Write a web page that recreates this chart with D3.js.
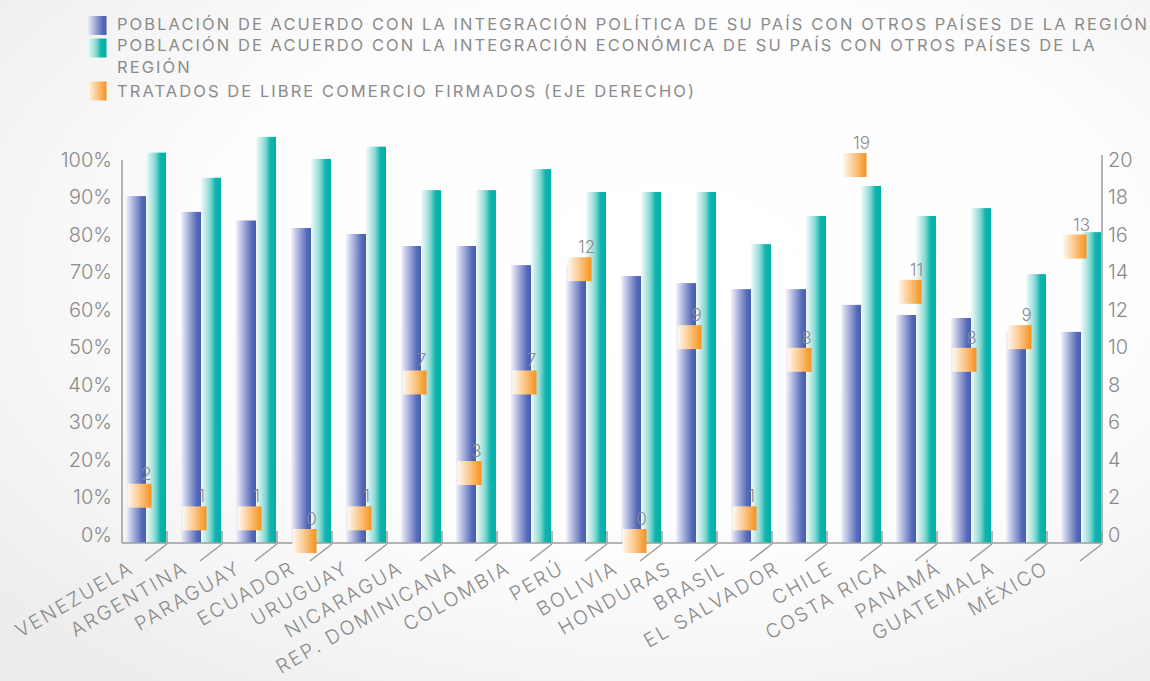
<!DOCTYPE html>
<html>
<head>
<meta charset="utf-8">
<script src="https://cdn.jsdelivr.net/npm/d3@7"></script>
<style>
  html, body { margin: 0; padding: 0; background: #ffffff; }
  svg { display: block; }
</style>
</head>
<body>
<svg id="chart" width="1150" height="681"></svg>
<script>
// ---------------- DATA ----------------
const countries = ["VENEZUELA", "ARGENTINA", "PARAGUAY", "ECUADOR", "URUGUAY", "NICARAGUA",
  "REP. DOMINICANA", "COLOMBIA", "PERÚ", "BOLIVIA", "HONDURAS", "BRASIL", "EL SALVADOR",
  "CHILE", "COSTA RICA", "PANAMÁ", "GUATEMALA", "MÉXICO"];
// % de la población de acuerdo con la integración política
const politica = [92.5, 88.3, 86.0, 84.0, 82.4, 79.2, 79.2, 74.1, 74.1, 71.2, 69.3, 67.7, 67.7, 63.5, 60.8, 60.0, 56.3, 56.3];
// % de la población de acuerdo con la integración económica
const economica = [104.1, 97.4, 108.3, 102.4, 105.7, 94.1, 94.1, 99.7, 93.6, 93.6, 93.6, 79.7, 87.2, 95.2, 87.2, 89.3, 71.7, 82.9];
// Tratados de libre comercio firmados (eje derecho)
const tratados = [2, 1, 1, 0, 1, 7, 3, 7, 12, 0, 9, 1, 8, 19, 11, 8, 9, 13];

const leftTicks = [0, 10, 20, 30, 40, 50, 60, 70, 80, 90, 100];
const rightTicks = [0, 2, 4, 6, 8, 10, 12, 14, 16, 18, 20];

const legendLabels = [
  ["POBLACIÓN DE ACUERDO CON LA INTEGRACIÓN POLÍTICA DE SU PAÍS CON OTROS PAÍSES DE LA REGIÓN"],
  ["POBLACIÓN DE ACUERDO CON LA INTEGRACIÓN ECONÓMICA DE SU PAÍS CON OTROS PAÍSES DE LA", "REGIÓN"],
  ["TRATADOS DE LIBRE COMERCIO FIRMADOS (EJE DERECHO)"]
];

// ---------------- SETUP ----------------
const FONT = "Inter, 'DejaVu Sans', sans-serif";
const TXT = "#8b8b8b";
const AX = "#9c9c9c";

const svg = d3.select("#chart");
const defs = svg.append("defs");

function hGrad(id, stops) {
  const g = defs.append("linearGradient").attr("id", id)
    .attr("x1", "0%").attr("x2", "100%").attr("y1", "0%").attr("y2", "0%");
  stops.forEach(s => g.append("stop").attr("offset", s[0]).attr("stop-color", s[1]));
}
hGrad("gBlue", [["0%", "#f1f2fb"], ["45%", "#9aa5d6"], ["80%", "#5569b8"], ["100%", "#465fb0"]]);
hGrad("gGreen", [["0%", "#f2fbfa"], ["45%", "#8ad9d4"], ["72%", "#10b4ad"], ["100%", "#00b0a8"]]);
hGrad("gOrange", [["0%", "#fffaf2"], ["50%", "#fbc78a"], ["100%", "#f6921e"]]);

const bg = defs.append("radialGradient").attr("id", "gBg")
  .attr("cx", "58%").attr("cy", "40%").attr("r", "75%");
bg.append("stop").attr("offset", "0%").attr("stop-color", "#ffffff");
bg.append("stop").attr("offset", "55%").attr("stop-color", "#fdfdfd");
bg.append("stop").attr("offset", "100%").attr("stop-color", "#ededed");
svg.append("rect").attr("width", 1150).attr("height", 681).attr("fill", "url(#gBg)");

// scales
const x = d3.scaleBand().domain(countries).range([112, 1102]).padding(0);
const sub = d3.scaleBand().domain(["pol", "eco"]).range([14, 54]).padding(0);
const yL = d3.scaleLinear().domain([0, 100]).range([543, 168]);
const yR = d3.scaleLinear().domain([0, 20]).range([543, 168]);
// the orange markers in the original follow their own (steeper) placement;
// values beyond the plot top (Chile, 19) are held at the top edge
const yM = d3.scaleLinear().domain([0, 16.6]).range([541, 165]).clamp(true);
// anchor points of the slanted category labels (slightly tighter than the bands)
const xLab = d3.scalePoint().domain(countries).range([135, 1050]);

const data = countries.map((c, i) => ({ c, pol: politica[i], eco: economica[i], tlc: tratados[i] }));

// ---------------- BARS ----------------
const bars = svg.append("g");
bars.selectAll("rect.pol").data(data).join("rect").attr("class", "pol")
  .attr("x", d => x(d.c) + sub("pol")).attr("width", sub.bandwidth())
  .attr("y", d => yL(d.pol)).attr("height", d => yL(0) - yL(d.pol))
  .attr("fill", "url(#gBlue)");
bars.selectAll("rect.eco").data(data).join("rect").attr("class", "eco")
  .attr("x", d => x(d.c) + sub("eco")).attr("width", sub.bandwidth())
  .attr("y", d => yL(d.eco)).attr("height", d => yL(0) - yL(d.eco))
  .attr("fill", "url(#gGreen)");

// ---------------- AXES ----------------
const axisG = svg.append("g");
const edges = countries.map(c => x(c) + x.bandwidth());
axisG.append("line").attr("x1", 122).attr("x2", 122).attr("y1", 160).attr("y2", yL(0))
  .attr("stroke", AX).attr("stroke-width", 1.5);
axisG.append("line").attr("x1", 1102).attr("x2", 1102).attr("y1", 155).attr("y2", yL(0))
  .attr("stroke", AX).attr("stroke-width", 1.5);
axisG.append("line").attr("x1", 122).attr("x2", 1102).attr("y1", yL(0)).attr("y2", yL(0))
  .attr("stroke", AX).attr("stroke-width", 1.5);
axisG.selectAll("line.vt").data(edges).join("line").attr("class", "vt")
  .attr("x1", d => d).attr("x2", d => d).attr("y1", yL(0) - 12).attr("y2", yL(0))
  .attr("stroke", AX).attr("stroke-width", 1.5);
axisG.selectAll("line.dg").data(edges).join("line").attr("class", "dg")
  .attr("x1", d => d).attr("x2", d => d - 22).attr("y1", yL(0) + 1).attr("y2", yL(0) + 18)
  .attr("stroke", AX).attr("stroke-width", 1.5);

const gl = svg.append("g").attr("transform", "translate(122,0)")
  .call(d3.axisLeft(yL).tickValues(leftTicks).tickFormat(d => d + "%").tickSize(0).tickPadding(10));
const gr = svg.append("g").attr("transform", "translate(1102,0)")
  .call(d3.axisRight(yR).tickValues(rightTicks).tickSize(0).tickPadding(6));
[gl, gr].forEach(g => {
  g.select(".domain").remove();
  g.selectAll("text").attr("font-family", FONT).attr("font-weight", 300)
    .attr("font-size", 20).attr("fill", TXT).attr("transform", "translate(0,-8)");
});

// category labels
svg.append("g").selectAll("text").data(countries).join("text")
  .attr("transform", d => `translate(${xLab(d)},572) rotate(-30)`)
  .attr("text-anchor", "end").attr("font-family", FONT).attr("font-weight", 300)
  .attr("font-size", 19.5).attr("letter-spacing", 2.1).attr("fill", TXT).text(d => d);

// ---------------- MARKERS (eje derecho) ----------------
const mk = svg.append("g");
const MS = 24;
mk.selectAll("rect").data(data).join("rect")
  .attr("x", d => x(d.c) + x.bandwidth() / 2 - MS / 2).attr("y", d => yM(d.tlc) - MS / 2)
  .attr("width", MS).attr("height", MS).attr("fill", "url(#gOrange)");
mk.selectAll("text").data(data).join("text")
  .attr("x", d => x(d.c) + x.bandwidth() / 2 + 7).attr("y", d => yM(d.tlc) - MS / 2 - 4)
  .attr("text-anchor", "middle").attr("font-family", FONT).attr("font-weight", 300)
  .attr("font-size", 17).attr("fill", TXT).text(d => d.tlc);

// ---------------- LEGEND ----------------
const legend = svg.append("g");
const fills = ["url(#gBlue)", "url(#gGreen)", "url(#gOrange)"];
const sqY = [16, 38.5, 81.5];
const lineY = [[30], [51, 73], [97]];
legend.selectAll("rect").data(fills).join("rect")
  .attr("x", 87.5).attr("y", (d, i) => sqY[i]).attr("width", 19).attr("height", 19).attr("fill", d => d);
const legTexts = [];
legendLabels.forEach((lines, i) => {
  lines.forEach((t, j) => {
    legTexts.push(legend.append("text").attr("x", 117).attr("y", lineY[i][j])
      .attr("font-family", FONT).attr("font-weight", 400).attr("font-size", 16.5)
      .attr("fill", TXT).text(t));
  });
});
// fit first line width to reference (ends near right edge)
const first = legTexts[0];
const natural = first.node().getComputedTextLength();
const nChars = legendLabels[0][0].length;
const ls = (1030 - natural) / (nChars - 1);
legTexts.forEach(t => t.attr("letter-spacing", ls));
</script>
</body>
</html>
